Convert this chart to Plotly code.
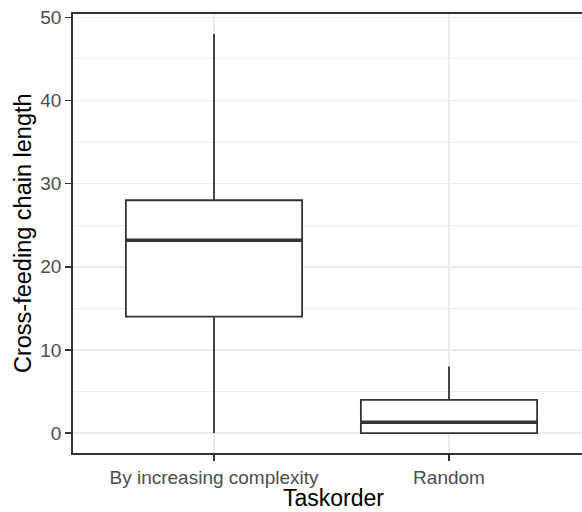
import plotly.graph_objects as go

categories = ["By increasing complexity", "Random"]
lower_whisker = [0, 0]
q1 = [14, 0]
median = [23.2, 1.3]
q3 = [28, 4]
upper_whisker = [48, 8]

y_ticks = [0, 10, 20, 30, 40, 50]

box_width = 0.75
line_col = "#333333"
grid_col = "#EBEBEB"
font_family = "Liberation Sans, Arial, sans-serif"

xpos = list(range(len(categories)))

fig = go.Figure()
fig.add_trace(go.Box(
    x=xpos,
    q1=q1, median=median, q3=q3,
    lowerfence=lower_whisker, upperfence=upper_whisker,
    width=box_width,
    whiskerwidth=0,
    fillcolor="white",
    line=dict(color=line_col, width=1.8),
    boxpoints=False,
    hoverinfo="skip",
    showlegend=False,
))

# thicker median lines (ggplot fatten)
for i, m in zip(xpos, median):
    fig.add_trace(go.Scatter(
        x=[i - box_width / 2, i + box_width / 2], y=[m, m],
        mode="lines", line=dict(color=line_col, width=3.5),
        hoverinfo="skip", showlegend=False,
    ))

L, T, B = 73, 14, 59
W, H = 582, 512
plot_w = W - L
plot_h = H - T - B
px_per_unit = 235

fig.update_layout(
    width=W, height=H,
    margin=dict(l=L, r=0, t=T, b=B),
    plot_bgcolor="white", paper_bgcolor="white",
    font=dict(family=font_family),
    xaxis=dict(
        range=[-0.6, -0.6 + plot_w / px_per_unit],
        tickvals=xpos, ticktext=categories,
        showgrid=True, gridcolor=grid_col, gridwidth=1.6,
        zeroline=False, automargin=False,
        showline=True, linecolor=line_col, linewidth=1.8, mirror=True,
        ticks="outside", ticklen=6, tickwidth=1.6, tickcolor=line_col,
        tickfont=dict(size=19, color="#4D4D4D"),
    ),
    yaxis=dict(
        range=[-2.4, 50.4],
        tickvals=y_ticks,
        showgrid=True, gridcolor=grid_col, gridwidth=1.6,
        minor=dict(dtick=5, tick0=5, showgrid=True, gridcolor=grid_col, gridwidth=0.9),
        zeroline=False, automargin=False,
        showline=True, linecolor=line_col, linewidth=1.8, mirror=False,
        ticks="outside", ticklen=6, tickwidth=1.6, tickcolor=line_col,
        tickfont=dict(size=19, color="#4D4D4D"),
    ),
    annotations=[
        dict(text="Taskorder", xref="paper", yref="paper",
             x=(333 - L) / plot_w, y=(T + plot_h - 498) / plot_h,
             xanchor="center", yanchor="middle", showarrow=False,
             font=dict(size=23, color="black")),
        dict(text="Cross-feeding chain length", xref="paper", yref="paper",
             x=(23 - L) / plot_w, y=(T + plot_h - 233) / plot_h,
             xanchor="center", yanchor="middle", showarrow=False, textangle=-90,
             font=dict(size=23.5, color="black")),
    ],
)

fig.write_html(
    "out.html",
    config={"displayModeBar": False, "staticPlot": True},
    post_script="document.body.style.margin='0';document.body.style.overflow='hidden';",
)
